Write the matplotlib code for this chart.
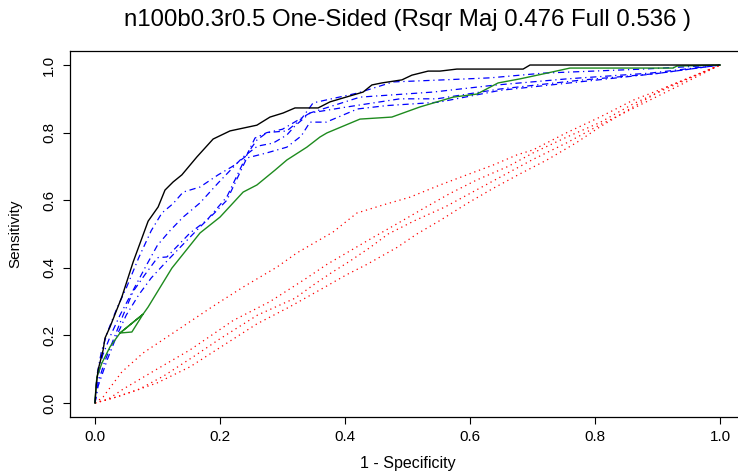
import matplotlib
matplotlib.use("Agg")
import matplotlib.pyplot as plt

plt.rcParams['font.family'] = ['Liberation Sans', 'DejaVu Sans']

title = "n100b0.3r0.5 One-Sided (Rsqr Maj 0.476 Full 0.536 )"
ticks = [0.0, 0.2, 0.4, 0.6, 0.8, 1.0]
tick_labels = ["0.0", "0.2", "0.4", "0.6", "0.8", "1.0"]

# full model (black)
full_fpr = [0, 0.002, 0.005, 0.013, 0.016, 0.024, 0.043, 0.061, 0.085, 0.101, 0.112, 0.125,
            0.139, 0.163, 0.189, 0.216, 0.259, 0.28, 0.301, 0.32, 0.357, 0.376, 0.429, 0.443,
            0.459, 0.491, 0.507, 0.533, 0.552, 0.579, 0.685, 0.696, 1.0]
full_tpr = [0, 0.053, 0.098, 0.157, 0.192, 0.225, 0.314, 0.417, 0.538, 0.58, 0.63, 0.654,
            0.675, 0.728, 0.781, 0.805, 0.822, 0.846, 0.858, 0.873, 0.873, 0.891, 0.92, 0.941,
            0.947, 0.956, 0.97, 0.982, 0.982, 0.988, 0.988, 1.0, 1.0]

# majority model (green)
maj_fpr = [0, 0, 0.003, 0.011, 0.024, 0.04, 0.059, 0.077, 0.04, 0.077, 0.085, 0.123, 0.168,
           0.2, 0.237, 0.259, 0.288, 0.307, 0.339, 0.36, 0.371, 0.424, 0.475, 0.52, 0.573,
           0.611, 0.645, 0.68, 0.723, 0.76, 0.925, 0.931, 1.0]
maj_tpr = [0, 0.009, 0.077, 0.118, 0.166, 0.207, 0.21, 0.263, 0.207, 0.263, 0.284, 0.399, 0.503,
           0.55, 0.624, 0.645, 0.689, 0.719, 0.757, 0.787, 0.799, 0.84, 0.846, 0.876, 0.905,
           0.914, 0.947, 0.959, 0.976, 0.991, 0.991, 0.997, 1.0]

# blue dash-dot curves
blue_fpr = [
    [0, 0.003, 0.01, 0.02, 0.035, 0.05, 0.07, 0.09, 0.107, 0.125, 0.141, 0.168, 0.197, 0.22,
     0.24, 0.259, 0.275, 0.307, 0.33, 0.349, 0.42, 0.477, 0.557, 0.632, 0.717, 0.877, 1.0],
    [0, 0.004, 0.012, 0.025, 0.04, 0.06, 0.08, 0.1, 0.12, 0.141, 0.168, 0.197, 0.237, 0.26,
     0.285, 0.307, 0.32, 0.344, 0.424, 0.541, 0.637, 0.755, 0.888, 1.0],
    [0, 0.005, 0.015, 0.03, 0.045, 0.061, 0.08, 0.1, 0.115, 0.152, 0.179, 0.211, 0.243, 0.256,
     0.275, 0.3, 0.344, 0.4, 0.488, 0.547, 0.648, 0.776, 0.9, 1.0],
    [0, 0.005, 0.02, 0.035, 0.05, 0.07, 0.09, 0.11, 0.136, 0.168, 0.19, 0.211, 0.243, 0.275,
     0.307, 0.33, 0.344, 0.37, 0.42, 0.467, 0.55, 0.648, 0.8, 0.9, 1.0],
]
blue_tpr = [
    [0, 0.08, 0.15, 0.21, 0.28, 0.34, 0.43, 0.51, 0.562, 0.59, 0.624, 0.639, 0.675, 0.7,
     0.728, 0.778, 0.8, 0.805, 0.84, 0.888, 0.917, 0.95, 0.956, 0.962, 0.976, 0.988, 1.0],
    [0, 0.07, 0.14, 0.2, 0.26, 0.33, 0.4, 0.467, 0.51, 0.55, 0.592, 0.651, 0.728, 0.76,
     0.769, 0.793, 0.82, 0.858, 0.905, 0.92, 0.94, 0.959, 0.976, 1.0],
    [0, 0.06, 0.12, 0.19, 0.26, 0.33, 0.38, 0.43, 0.432, 0.503, 0.541, 0.61, 0.734, 0.784,
     0.8, 0.81, 0.858, 0.875, 0.9, 0.9, 0.929, 0.955, 0.975, 1.0],
    [0, 0.05, 0.13, 0.2, 0.26, 0.32, 0.37, 0.41, 0.46, 0.521, 0.56, 0.6, 0.725, 0.74,
     0.757, 0.79, 0.831, 0.831, 0.87, 0.88, 0.89, 0.925, 0.955, 0.975, 1.0],
]

# red dotted curves
red_fpr = [
    [0, 0.013, 0.043, 0.077, 0.12, 0.187, 0.237, 0.291, 0.323, 0.381, 0.419, 0.461, 0.504,
     0.552, 0.595, 0.637, 0.675, 0.701, 0.755, 0.808, 0.861, 0.915, 1.0],
    [0, 0.02, 0.045, 0.099, 0.152, 0.221, 0.28, 0.339, 0.371, 0.408, 0.445, 0.483, 0.525,
     0.568, 0.611, 0.661, 0.701, 0.755, 0.808, 0.861, 0.92, 1.0],
    [0, 0.035, 0.07, 0.11, 0.16, 0.2, 0.26, 0.32, 0.35, 0.378, 0.408, 0.44, 0.469, 0.512,
     0.56, 0.6, 0.65, 0.7, 0.755, 0.81, 0.87, 0.93, 1.0],
    [0, 0.035, 0.099, 0.152, 0.205, 0.259, 0.312, 0.365, 0.403, 0.435, 0.483, 0.515, 0.552,
     0.595, 0.637, 0.68, 0.723, 0.77, 0.808, 0.861, 0.915, 1.0],
]
red_tpr = [
    [0, 0.018, 0.092, 0.148, 0.201, 0.284, 0.343, 0.402, 0.444, 0.506, 0.562, 0.586, 0.609,
     0.645, 0.675, 0.704, 0.734, 0.749, 0.8, 0.846, 0.896, 0.935, 1.0],
    [0, 0.01, 0.041, 0.1, 0.157, 0.244, 0.3, 0.37, 0.41, 0.45, 0.49, 0.53, 0.575,
     0.62, 0.66, 0.7, 0.74, 0.787, 0.83, 0.885, 0.935, 1.0],
    [0, 0.018, 0.04, 0.08, 0.14, 0.19, 0.26, 0.31, 0.35, 0.385, 0.42, 0.46, 0.5, 0.54,
     0.58, 0.62, 0.67, 0.72, 0.77, 0.825, 0.88, 0.935, 1.0],
    [0, 0.018, 0.059, 0.107, 0.17, 0.234, 0.285, 0.34, 0.38, 0.41, 0.46, 0.5, 0.54,
     0.59, 0.635, 0.678, 0.719, 0.77, 0.817, 0.876, 0.935, 1.0],
]

fig = plt.figure(figsize=(7.38, 4.73), dpi=100)
ax = fig.add_axes([70 / 738, 56.5 / 473, 675 / 738, 365 / 473])

for fx, ty in zip(red_fpr, red_tpr):
    ax.plot(fx, ty, color="red", lw=0.9, dashes=(1, 3))
for fx, ty in zip(blue_fpr, blue_tpr):
    ax.plot(fx, ty, color="blue", lw=0.9, dashes=(5, 3, 1, 3))
ax.plot(maj_fpr, maj_tpr, color="#1e8b1e", lw=1.0)
ax.plot(full_fpr, full_tpr, color="black", lw=1.0)

ax.set_xlim(-0.04, 1.04)
ax.set_ylim(-0.04, 1.04)
ax.set_xticks(ticks)
ax.set_xticklabels(tick_labels)
ax.set_yticks(ticks)
ax.set_yticklabels(tick_labels, rotation=90, va="center")
ax.tick_params(direction="out", length=5, width=0.8, labelsize=11, pad=5)
for sp in ax.spines.values():
    sp.set_linewidth(0.9)

fig.text(407.5 / 738, 1 - 20 / 473, title, ha="center", va="center", fontsize=17.3)
fig.text(407.5 / 738, 1 - 463 / 473, "1 - Specificity", ha="center", va="center", fontsize=11.5)
fig.text(15 / 738, 1 - 234 / 473, "Sensitivity", ha="center", va="center", rotation=90, fontsize=11)

fig.savefig("out.png", dpi=100)
